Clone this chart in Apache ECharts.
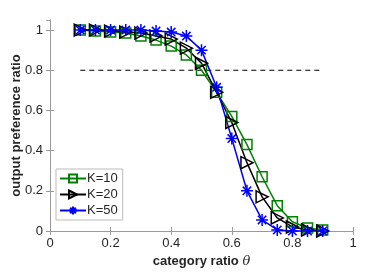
<!DOCTYPE html>
<html><head><meta charset="utf-8">
<script src="https://cdn.jsdelivr.net/npm/echarts@6/dist/echarts.min.js"></script>
<style>html,body{margin:0;padding:0;background:#fff}#c{width:390px;height:275px}</style>
</head><body><div id="c"></div>
<script>
const theta = [0.1,0.15,0.2,0.25,0.3,0.35,0.4,0.45,0.5,0.55,0.6,0.65,0.7,0.75,0.8,0.85,0.9];
const k10 = [1.0,0.995,0.99,0.985,0.97,0.95,0.92,0.876,0.80,0.69,0.57,0.43,0.27,0.126,0.046,0.015,0.005];
const k20 = [1.0,1.0,0.995,0.99,0.985,0.97,0.955,0.91,0.835,0.69,0.54,0.34,0.17,0.065,0.02,0.005,0.0];
const k50 = [1.0,1.0,1.0,1.0,1.0,0.995,0.99,0.97,0.90,0.715,0.46,0.20,0.055,0.005,0.0,0.0,0.0];
const refLine = [[0.1,0.8],[0.9,0.8]];
const names = ['K=10','K=20','K=50'];

const zip = a => theta.map((t,i)=>[t,a[i]]);
const star = 'path://M0,-10L0,10M-10,0L10,0M-7,-7L7,7M-7,7L7,-7';
const tri = 'path://M0,0L10,5L0,10Z';
const font = 'Liberation Sans, Arial, sans-serif';
const axisCol = '#9a9a9a';
const txt = '#262626';

function mk(name, data, color, symbol, size){
  return {name, type:'line', data:zip(data), symbol, symbolSize:size,
    lineStyle:{color, width:1.5}, itemStyle:{color:'none', borderColor:color, borderWidth:1.5},
    emphasis:{disabled:true}, animation:false};
}
const chart = echarts.init(document.getElementById('c'));
chart.setOption({
  animation:false,
  grid:{left:50,right:37,top:20,bottom:44, containLabel:false, outerBoundsMode:'none'},
  legend:{data:names, orient:'vertical', left:56, top:169, itemGap:3, itemWidth:26, itemHeight:10,
    padding:[3,5,3,3], borderColor:'#bbb', borderWidth:1, backgroundColor:'#fff',
    textStyle:{fontFamily:font, fontSize:13, color:txt, padding:[0,0,0,-4]}},
  xAxis:[{type:'value', min:0, max:1, interval:0.2,
    axisLine:{lineStyle:{color:axisCol}}, axisTick:{inside:true, length:4, lineStyle:{color:axisCol}},
    splitLine:{show:false},
    axisLabel:{fontFamily:font, fontSize:13, color:txt, margin:6},
    name:'category ratio {i|θ}', nameLocation:'middle', nameGap:24, nameMoveOverlap:false,
    nameTextStyle:{fontFamily:font, fontSize:13, fontWeight:'bold', color:txt,
      rich:{i:{fontFamily:'DejaVu Serif, serif', fontStyle:'italic', fontWeight:'normal', fontSize:13, color:txt}}}},
   {type:'value', position:'top', min:0, max:1, interval:0.2,
    axisLine:{lineStyle:{color:axisCol}}, axisTick:{inside:true, length:4, lineStyle:{color:axisCol}},
    axisLabel:{show:false}, splitLine:{show:false}}],
  yAxis:[{type:'value', min:0, max:1.05, interval:0.2,
    axisLine:{show:true, lineStyle:{color:axisCol}}, axisTick:{show:true, inside:true, length:4, lineStyle:{color:axisCol}},
    splitLine:{show:false},
    axisLabel:{fontFamily:font, fontSize:13, color:txt, margin:7, showMaxLabel:false,
      formatter:v=>Math.abs(v*5-Math.round(v*5))<1e-6?String(+v.toFixed(1)):''},
    name:'output preference ratio', nameLocation:'middle', nameGap:27, nameMoveOverlap:false,
    nameTextStyle:{fontFamily:font, fontSize:13, fontWeight:'bold', color:txt}},
   {type:'value', position:'right', min:0, max:1.05, interval:0.2,
    axisLine:{show:true, lineStyle:{color:axisCol}}, axisTick:{show:true, inside:true, length:4, lineStyle:{color:axisCol}},
    axisLabel:{show:false}, splitLine:{show:false}}],
  series:[
    {name:'ref', type:'line', data:refLine, symbol:'none',
      lineStyle:{color:'#000', width:1.2, type:[5,4]}, emphasis:{disabled:true}, silent:true},
    mk(names[0], k10, '#008000', 'rect', 10),
    mk(names[1], k20, '#000000', tri, 12),
    mk(names[2], k50, '#0000ff', star, 12)
  ]
});
</script></body></html>
